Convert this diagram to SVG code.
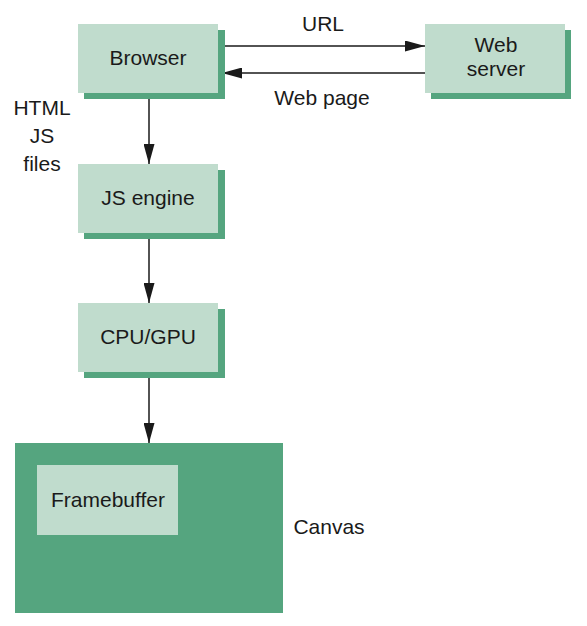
<svg xmlns="http://www.w3.org/2000/svg" width="587" height="626" viewBox="0 0 587 626">
<style>
.box{fill:#c0dccd}
.sh{fill:#55a57f}
.t{font-family:"Liberation Sans","DejaVu Sans",sans-serif;font-size:21px;fill:#1a1a1a;text-anchor:middle}
.c{stroke:#1a1a1a;stroke-width:1.5;fill:none;marker-end:url(#ah)}
</style>
<defs>
<marker id="ah" markerWidth="20" markerHeight="11" refX="20" refY="5.5" orient="auto" markerUnits="userSpaceOnUse">
<path d="M0,0 L20,5.5 L0,11 Z" fill="#1a1a1a"/>
</marker>
</defs>
<rect width="587" height="626" fill="#ffffff"/>
<g id="connectors">
<line class="c" x1="218" y1="46" x2="425" y2="46"/>
<line class="c" x1="425" y1="73" x2="222" y2="73"/>
<line class="c" x1="149" y1="99" x2="149" y2="164"/>
<line class="c" x1="149" y1="239" x2="149" y2="303"/>
<line class="c" x1="149" y1="378" x2="149" y2="443"/>
</g>
<g id="browser">
<rect class="sh" x="84" y="30" width="141" height="69"/>
<rect class="box" x="78" y="24" width="140" height="69"/>
<text class="t" x="148" y="65">Browser</text>
</g>
<g id="webserver">
<rect class="sh" x="431" y="30" width="140" height="69"/>
<rect class="box" x="425" y="24" width="140" height="69"/>
<text class="t" x="496" y="52">Web</text>
<text class="t" x="496" y="76">server</text>
</g>
<g id="jsengine">
<rect class="sh" x="84" y="170" width="141" height="69"/>
<rect class="box" x="78" y="164" width="140" height="69"/>
<text class="t" x="148" y="205">JS engine</text>
</g>
<g id="cpugpu">
<rect class="sh" x="84" y="309" width="141" height="69"/>
<rect class="box" x="78" y="303" width="140" height="69"/>
<text class="t" x="148" y="344">CPU/GPU</text>
</g>
<g id="canvas">
<rect class="sh" x="15" y="443" width="268" height="170"/>
<rect class="box" x="37" y="465" width="141" height="70"/>
<text class="t" x="108" y="507">Framebuffer</text>
<text class="t" x="329" y="534">Canvas</text>
</g>
<g id="labels">
<text class="t" x="323" y="31">URL</text>
<text class="t" x="322" y="105">Web page</text>
<text class="t" x="42" y="115">HTML</text>
<text class="t" x="42" y="143">JS</text>
<text class="t" x="42" y="171">files</text>
</g>
</svg>
